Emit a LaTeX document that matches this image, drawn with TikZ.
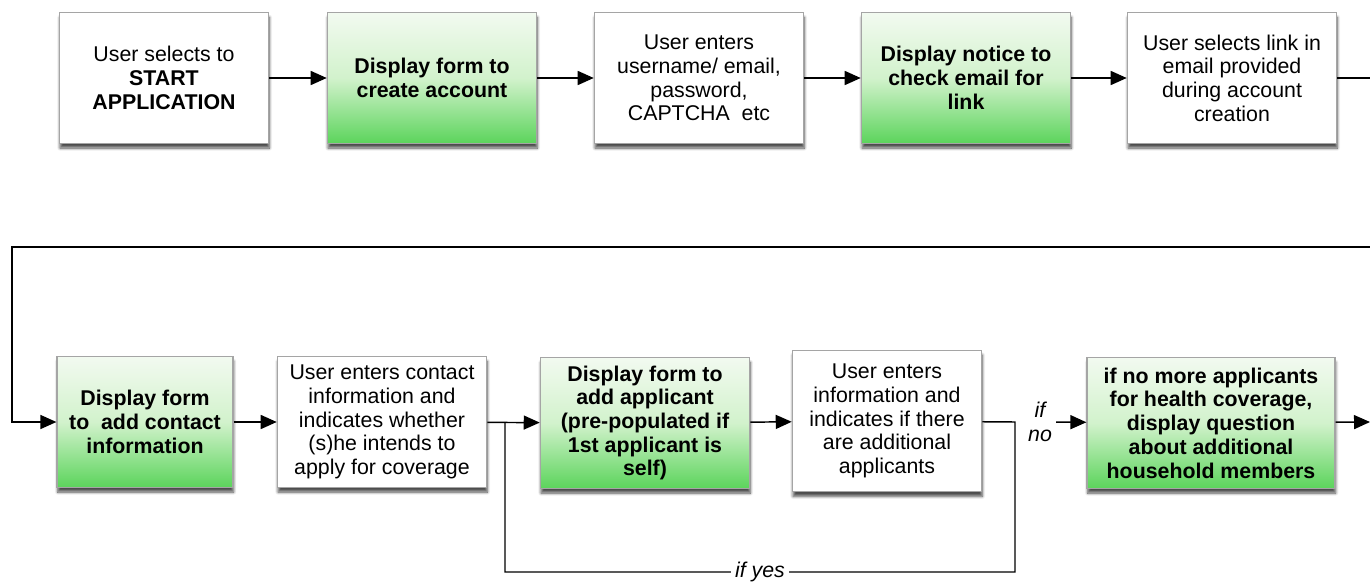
\documentclass[tikz,border=0pt]{standalone}
\usepackage{fontspec}
\setmainfont{Liberation Sans}
\usepackage{tikz}
\usetikzlibrary{arrows.meta,shadows,shadows.blur,positioning,calc}

\definecolor{boxline}{RGB}{165,165,165}
\definecolor{greentop}{RGB}{242,250,240}
\definecolor{greenmid}{RGB}{210,242,204}
\definecolor{greenbot}{RGB}{92,212,92}

\begin{document}
\begin{tikzpicture}[x=0.75pt, y=-0.75pt,
    every node/.style={font=\fontsize{16}{17.8}\selectfont},
    stepbox/.style={draw=boxline, line width=0.9pt, fill=white, align=center,
        minimum width=157pt, minimum height=98pt, inner sep=2pt,
        blur shadow={shadow xshift=0.5pt, shadow yshift=-3.5pt, shadow blur steps=6, shadow opacity=70}},
    showbox/.style={stepbox, font=\fontsize{16}{17.8}\selectfont\bfseries,
        top color=greentop, bottom color=greenbot, middle color=greenmid},
    flow/.style={-{Triangle[length=12pt,width=10.5pt]}, line width=1.1pt},
    tag/.style={font=\fontsize{16}{17.8}\selectfont\itshape, fill=white, inner sep=3pt, align=center}]
    \useasboundingbox (0,0) rectangle (1370,582);

    % Top row
    \node[stepbox] (start) at (164,78) {User selects to\\\textbf{START}\\\textbf{APPLICATION}};
    \node[showbox] (create) at (432,78) {Display form to\\create account};
    \node[stepbox] (account) at (699,78) {User enters\\username/ email,\\password,\\CAPTCHA~~etc};
    \node[showbox] (notice) at (966,78) {Display notice to\\check email for\\link};
    \node[stepbox] (link) at (1232,78) {User selects link in\\email provided\\during account\\creation};
    \draw[flow] (start) -- (create);
    \draw[flow] (create) -- (account);
    \draw[flow] (account) -- (notice);
    \draw[flow] (notice) -- (link);

    % Wrap to second row
    \coordinate (topout) at (1370,78);
    \coordinate (wrapR) at (1370,247);
    \coordinate (wrapL) at (12,247);
    \draw[line width=1.1pt] (link) -- (topout);

    % Bottom row
    \node[showbox, minimum width=132pt] (contact) at (145,422) {Display form\\to~~add contact\\information};
    \node[stepbox] (entcontact) at (382,422) {User enters contact\\information and\\indicates whether\\(s)he intends to\\apply for coverage};
    \node[showbox] (addapp) at (645,423) {Display form to\\add applicant\\(pre-populated if\\1st applicant is\\self)};
    \node[stepbox, minimum width=142pt, minimum height=106pt] (entapp) at (887,421) {User enters\\information and\\indicates if there\\are additional\\applicants};
    \node[showbox, minimum width=186pt] (household) at (1211,423) {if no more applicants\\for health coverage,\\display question\\about additional\\household members};
    \node[tag] (ifno) at (1040,422) {if\\no};
    \coordinate (topoutB) at (1370,422);
    \draw[flow] (wrapR) -- (wrapL) |- (contact);
    \draw[flow] (contact) -- (entcontact);
    \draw[flow] (entcontact) -- (addapp);
    \draw[flow] (addapp) -- (entapp);
    \draw[flow] (ifno) -- (household);
    \draw[flow] (household) -- (topoutB);

    % if yes loop
    \coordinate (joinA) at (505,422);
    \coordinate (joinB) at (1015,422);
    \coordinate (loopL) at (505,572);
    \coordinate (loopR) at (1015,572);
    \draw[line width=1.1pt] (entapp) -- (joinB) -- (loopR) -- node[tag] {if yes} (loopL) -- (joinA);
\end{tikzpicture}
\end{document}
